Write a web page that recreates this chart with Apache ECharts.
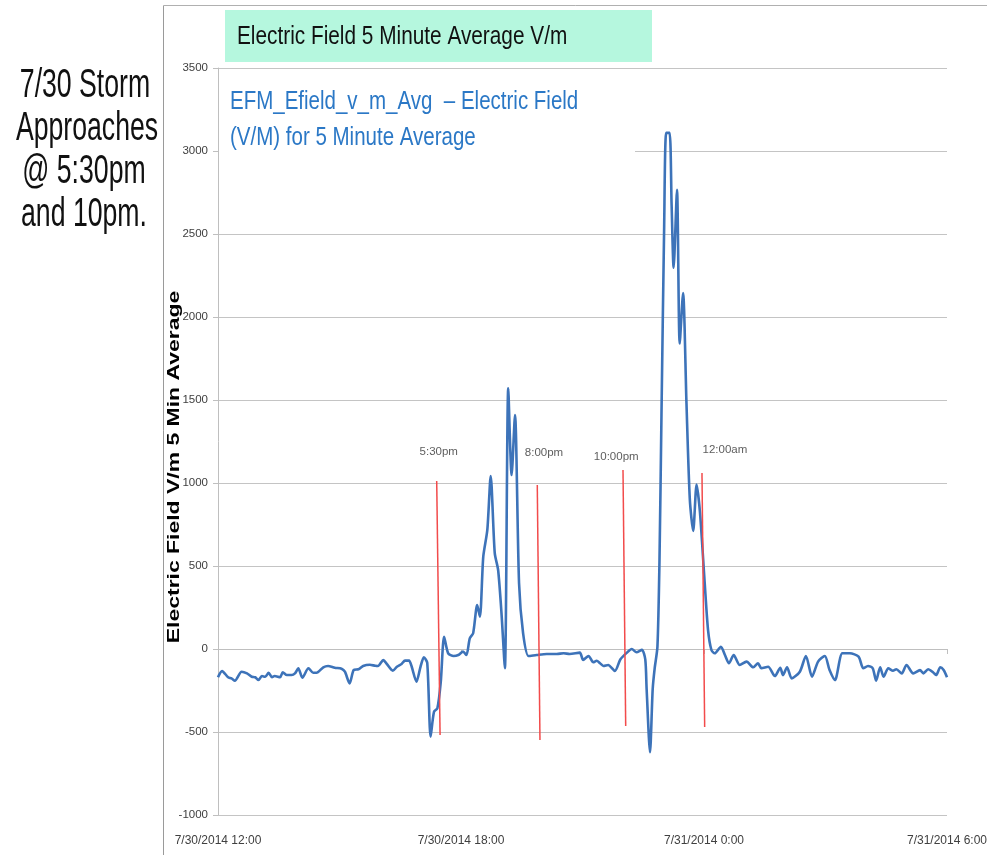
<!DOCTYPE html>
<html>
<head>
<meta charset="utf-8">
<title>Electric Field 5 Minute Average V/m</title>
<script src="https://cdn.jsdelivr.net/npm/echarts@6/dist/echarts.min.js"></script>
<style>
  html, body { margin: 0; padding: 0; background: #ffffff; }
  #chart { width: 987px; height: 855px; }
</style>
</head>
<body>
<div id="chart"></div>
<script>
// Field-mill readings, minutes after 7/30/2014 12:00 and 5-minute average field (V/m)
const minutesAfterNoon = [
  0, 6, 15, 20, 25, 35, 43, 50, 55, 60, 65, 70, 75, 80, 84, 92, 96, 102, 109, 114,
  119, 125, 134, 141, 146, 156, 163, 173, 183, 188, 195, 201, 208, 215, 225, 233, 237, 245, 250, 259,
  265, 272, 277, 283, 287, 294, 300, 305, 310, 315, 320, 325, 330, 335, 341, 349, 356, 363, 368, 373,
  378, 384, 388, 393, 399, 404, 410, 415, 420, 425, 430, 435, 440, 446, 452, 460, 472, 487, 502, 512,
  521, 536, 541, 549, 556, 561, 566, 571, 578, 588, 596, 605, 613, 620, 628, 633, 635, 640, 644, 647,
  651, 654, 657, 661, 664, 669, 672, 675, 680, 684, 689, 694, 699, 704, 709, 714, 721, 726, 731, 736,
  745, 751, 757, 764, 773, 783, 793, 800, 805, 815, 825, 833, 837, 843, 850, 862, 871, 880, 889, 899,
  906, 914, 925, 936, 949, 956, 963, 970, 975, 981, 986, 993, 1000, 1005, 1013, 1020, 1030, 1040, 1045, 1052,
  1060, 1064, 1070, 1075, 1080
];
const efieldVm = [
  -170, -133, -170, -177, -191, -137, -147, -167, -170, -187, -163, -167, -143, -170, -163, -170, -140, -157, -157, -147,
  -116, -173, -116, -143, -143, -110, -102, -113, -119, -137, -207, -127, -122, -102, -95, -101, -102, -66, -90, -131,
  -107, -90, -70, -70, -107, -197, -107, -50, -83, -528, -378, -357, -200, 74, -26, -42, -36, -16, -36, 64,
  95, 265, 195, 556, 717, 1042, 577, 476, 215, -116, 1570, 1048, 1410, 396, 95, -42, -36, -30, -30, -26,
  -30, -22, -66, -42, -80, -71, -86, -102, -96, -132, -63, -25, 0, -20, -5, -63, -241, -622, -241, -114,
  13, 520, 1409, 2551, 3109, 3109, 2678, 2297, 2766, 1840, 2145, 1485, 901, 711, 990, 825, 400, 114, -6, -26,
  14, -36, -86, -36, -96, -76, -110, -86, -116, -107, -163, -113, -157, -110, -177, -137, -42, -167, -76, -42,
  -127, -187, -26, -26, -46, -116, -102, -116, -191, -110, -167, -116, -131, -122, -147, -96, -147, -127, -147, -122,
  -143, -157, -110, -127, -170
];

// Hand-drawn time markers (slightly slanted red strokes) and their captions
const markerLabels = ['5:30pm', '8:00pm', '10:00pm', '12:00am'];
const markerTopMin = [324, 473, 600, 717];
const markerTopVal = [1012, 988, 1078, 1060];
const markerBottomMin = [329, 477, 604, 721];
const markerBottomVal = [-518, -548, -464, -470];
const markerLabelMin = [327, 483, 590, 751];
const markerLabelVal = [1187, 1181, 1157, 1199];

// Axis ranges
const yMin = -1000, yMax = 3500, yStep = 500;
const xMin = 0, xMax = 1080, xStep = 360;

const baseTime = new Date(2014, 6, 30, 12, 0, 0).getTime();
function fmtStamp(minutes) {
  const d = new Date(baseTime + minutes * 60000);
  const mm = String(d.getMinutes()).padStart(2, '0');
  return (d.getMonth() + 1) + '/' + d.getDate() + '/' + d.getFullYear() + ' ' + d.getHours() + ':' + mm;
}

const fieldData = minutesAfterNoon.map((m, i) => [m, efieldVm[i]]);

const markerSeries = markerLabels.map((name, i) => ({
  type: 'line',
  name: name,
  silent: true,
  symbol: 'none',
  z: 3,
  lineStyle: { color: '#f24b4b', width: 1.5 },
  data: [[markerTopMin[i], markerTopVal[i]], [markerBottomMin[i], markerBottomVal[i]]]
}));

const captionSeries = {
  type: 'scatter',
  silent: true,
  symbolSize: 0,
  z: 4,
  data: markerLabels.map((name, i) => ({ value: [markerLabelMin[i], markerLabelVal[i]], name: name })),
  label: {
    show: true,
    position: 'inside',
    formatter: p => p.name,
    fontFamily: 'Liberation Sans, Arial, sans-serif',
    fontSize: 11.5,
    color: '#333333'
  }
};

const chart = echarts.init(document.getElementById('chart'), null, { renderer: 'canvas' });

chart.setOption({
  animation: false,
  backgroundColor: '#ffffff',
  grid: { left: 218, right: 40, top: 68, bottom: 40, outerBoundsMode: 'none', containLabel: false },
  xAxis: {
    type: 'value',
    min: xMin, max: xMax, interval: xStep,
    axisLine: { show: true, lineStyle: { color: '#bfbfbf', width: 1 } },
    axisTick: { show: true, length: 5, lineStyle: { color: '#bfbfbf' } },
    splitLine: { show: false },
    axisLabel: {
      margin: 20,
      fontFamily: 'Liberation Sans, Arial, sans-serif',
      fontSize: 12,
      color: '#404040',
      formatter: v => fmtStamp(v)
    }
  },
  yAxis: {
    type: 'value',
    min: yMin, max: yMax, interval: yStep,
    axisLine: { show: true, lineStyle: { color: '#bfbfbf', width: 1 } },
    axisTick: { show: true, length: 5, lineStyle: { color: '#bfbfbf' } },
    splitLine: { show: true, lineStyle: { color: '#c4c4c4', width: 1.2 } },
    axisLabel: {
      margin: 10,
      fontFamily: 'Liberation Sans, Arial, sans-serif',
      fontSize: 11.5,
      color: '#404040',
      formatter: v => String(v)
    }
  },
  series: [
    {
      type: 'line',
      name: 'EFM_Efield_v_m_Avg',
      data: fieldData,
      symbol: 'none',
      smooth: 0.25,
      z: 2,
      lineStyle: { color: '#3d73b9', width: 2.6 }
    },
    ...markerSeries,
    captionSeries
  ],
  graphic: [
    // outer frame of the chart area
    { type: 'line', z: 1, shape: { x1: 163.5, y1: 5.5, x2: 163.5, y2: 855 }, style: { stroke: '#9a9a9a', lineWidth: 1 } },
    { type: 'line', z: 1, shape: { x1: 163.5, y1: 5.5, x2: 987, y2: 5.5 }, style: { stroke: '#b0b0b0', lineWidth: 1 } },
    // title box
    { type: 'rect', z: 1, shape: { x: 225, y: 10, width: 427, height: 52 }, style: { fill: '#b5f7de' } },
    {
      type: 'text', z: 2, x: 237, y: 37, scaleX: 0.8,
      style: { text: 'Electric Field 5 Minute Average V/m', fontFamily: 'Liberation Sans, Arial, sans-serif',
               fontSize: 26, fill: '#111111', textAlign: 'left', textVerticalAlign: 'middle' }
    },
    // series description panel
    { type: 'rect', z: 1, shape: { x: 219, y: 78, width: 416, height: 82 }, style: { fill: '#ffffff' } },
    {
      type: 'text', z: 2, x: 230, y: 102, scaleX: 0.82,
      style: { text: 'EFM_Efield_v_m_Avg  \u2013 Electric Field', fontFamily: 'Liberation Sans, Arial, sans-serif',
               fontSize: 25, fill: '#2b78c6', textAlign: 'left', textVerticalAlign: 'middle' }
    },
    {
      type: 'text', z: 2, x: 230, y: 138, scaleX: 0.82,
      style: { text: '(V/M) for 5 Minute Average', fontFamily: 'Liberation Sans, Arial, sans-serif',
               fontSize: 25, fill: '#2b78c6', textAlign: 'left', textVerticalAlign: 'middle' }
    },
    // vertical axis title
    {
      type: 'text', z: 2, x: 174.5, y: 467, rotation: Math.PI / 2, scaleX: 1.35,
      style: { text: 'Electric Field V/m 5 Min Average', fontFamily: 'Liberation Sans, Arial, sans-serif',
               fontWeight: 'bold', fontSize: 17, fill: '#000000', textAlign: 'center', textVerticalAlign: 'middle' }
    },
    // side note
    {
      type: 'text', z: 2, x: 85, y: 86, scaleX: 0.65,
      style: { text: '7/30 Storm', fontFamily: 'Liberation Sans, Arial, sans-serif', fontSize: 41,
               fill: '#111111', textAlign: 'center', textVerticalAlign: 'middle' }
    },
    {
      type: 'text', z: 2, x: 87, y: 129, scaleX: 0.65,
      style: { text: 'Approaches', fontFamily: 'Liberation Sans, Arial, sans-serif', fontSize: 41,
               fill: '#111111', textAlign: 'center', textVerticalAlign: 'middle' }
    },
    {
      type: 'text', z: 2, x: 84, y: 172, scaleX: 0.65,
      style: { text: '@ 5:30pm', fontFamily: 'Liberation Sans, Arial, sans-serif', fontSize: 41,
               fill: '#111111', textAlign: 'center', textVerticalAlign: 'middle' }
    },
    {
      type: 'text', z: 2, x: 84, y: 215, scaleX: 0.65,
      style: { text: 'and 10pm.', fontFamily: 'Liberation Sans, Arial, sans-serif', fontSize: 41,
               fill: '#111111', textAlign: 'center', textVerticalAlign: 'middle' }
    }
  ]
});
</script>
</body>
</html>
